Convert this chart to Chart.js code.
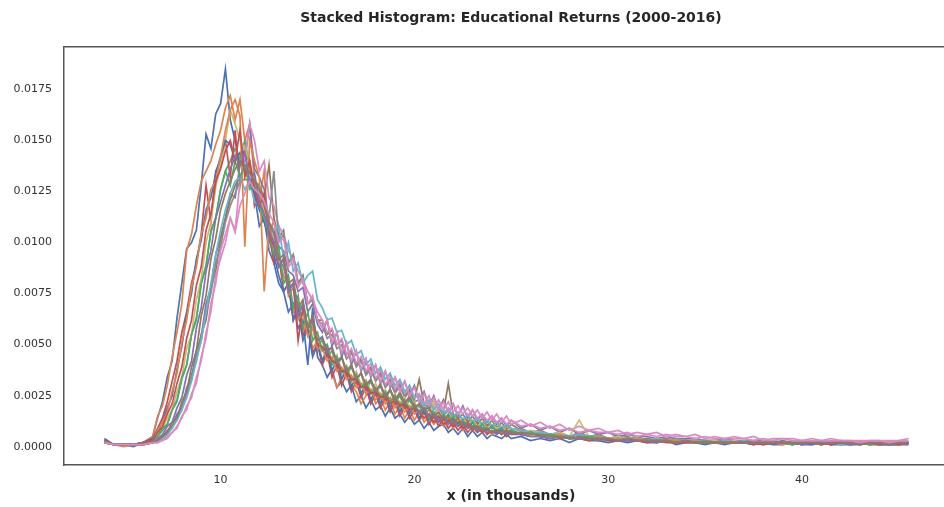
<!DOCTYPE html>
<html>
<head>
<meta charset="utf-8">
<script src="https://cdn.jsdelivr.net/npm/chart.js@4"></script>
<style>
  html, body { margin: 0; padding: 0; background: #fff; overflow: hidden; }
  canvas { display: block; }
</style>
</head>
<body>
<canvas id="chart" width="960" height="507"></canvas>
<script>
// x positions (in thousands)
const xThousands = [
  4, 4.5, 5, 5.5, 6, 6.5,
  6.75, 7, 7.25, 7.5, 7.75, 8, 8.25, 8.5, 8.75, 9, 9.25, 9.5, 9.75, 10,
  10.25, 10.5, 10.75, 11, 11.25, 11.5, 11.75, 12, 12.25, 12.5, 12.75, 13, 13.25, 13.5, 13.75, 14, 14.25, 14.5, 14.75, 15,
  15.25, 15.5, 15.75, 16, 16.25, 16.5, 16.75, 17, 17.25, 17.5, 17.75, 18, 18.25, 18.5, 18.75, 19, 19.25, 19.5, 19.75, 20,
  20.25, 20.5, 20.75, 21, 21.25, 21.5, 21.75, 22, 22.25, 22.5, 22.75, 23, 23.25, 23.5, 23.75, 24, 24.25, 24.5, 24.75, 25,
  25.5, 26, 26.5, 27, 27.5, 28, 28.5, 29, 29.5, 30, 30.5, 31, 31.5, 32, 32.5, 33, 33.5, 34, 34.5, 35,
  35.5, 36, 36.5, 37, 37.5, 38, 38.5, 39, 39.5, 40, 40.5, 41, 41.5, 42, 42.5, 43, 43.5, 44, 44.5, 45, 45.5
];

// density per year, in units of 0.0001
const d2000 = [4,1,1,0,2,5, 14,22,34,42,63,80,97,100,106,128,153,146,163,168, 185,160,150,138,146,128,124,108,112,96,90,80,76,66,70,58,62,40,68,44, 40,34,38,29,32,27,30,22,25,19,23,18,20,15,19,14,16,12,15,11, 13,9,12,8,10,11,7,9,6,9,5,8,5,7,4,6,5,4,6,4, 5,3,4,3,4,2,4,3,3,2,3,2,3,2,2,3,1,2,2,1,2,1,2,2,1,2,1,1,2,1,1,2,1,1,1,2,1,1,1,1,2];
const d2001 = [3,1,0,1,2,5, 15,20,30,44,56,70,96,104,118,130,135,140,148,155, 166,172,160,170,150,158,130,120,135,100,112,92,84,78,66,70,56,60,48,52, 42,48,36,29,34,38,30,27,21,25,28,21,24,18,22,16,20,14,18,13, 17,12,15,11,14,10,13,9,12,8,11,8,10,7,9,6,8,7,6,7, 8,6,7,5,7,5,6,4,6,4,5,3,4,4,3,4,3,3,2,3,3,2,3,2,2,3,2,2,2,1,2,2,2,1,2,2,1,2,2,1,2];
const d2002 = [2,1,1,1,1,3, 5,8,11,18,22,33,40,55,62,80,88,106,112,126, 135,140,146,141,150,137,130,126,116,108,100,92,88,78,80,66,70,58,60,50, 52,44,47,39,44,35,39,33,36,28,32,26,30,23,28,21,25,19,23,18, 20,16,18,14,17,13,16,12,14,11,13,10,12,9,11,9,10,8,9,7, 8,7,7,6,6,5,6,4,5,4,5,4,4,3,4,3,3,3,3,2,3,2,3,2,2,3,2,2,2,2,2,2,1,2,2,2,1,2,2,1,2];
const d2003 = [3,1,1,1,2,4, 9,14,22,32,42,56,66,80,90,104,128,110,135,140, 150,132,155,128,145,140,118,125,110,104,90,94,76,80,62,68,54,60,46,50, 40,46,34,40,30,36,27,32,24,29,21,26,19,24,17,22,15,20,14,18, 13,17,11,15,10,14,9,12,8,11,7,10,7,9,6,8,6,8,5,7, 6,7,5,6,4,5,4,5,3,4,3,4,3,3,2,3,2,3,2,2,2,2,2,2,1,2,2,2,1,2,2,1,2,2,1,2,1,2,2,1,2];
const d2004 = [2,1,1,1,1,2, 3,5,8,10,16,19,29,34,47,54,70,78,94,102, 112,124,122,138,140,158,136,132,126,110,106,98,96,86,84,76,78,66,70,60, 56,62,49,56,44,51,40,47,37,43,34,40,31,37,29,34,27,32,25,30, 22,27,20,25,18,23,17,21,15,20,14,18,13,16,12,15,11,14,10,13, 9,11,8,10,7,9,6,8,6,7,5,6,5,5,4,5,4,4,4,3,3,4,3,3,3,3,2,3,2,3,2,2,2,3,2,2,2,2,2,2,2];
const d2005 = [3,1,1,1,1,2, 3,5,6,10,13,20,25,35,42,55,62,78,86,102, 112,121,128,132,138,135,130,128,122,138,112,102,106,90,94,80,84,70,72,62, 62,55,57,50,52,45,47,40,43,36,39,33,36,30,33,27,31,25,28,23, 33,21,19,24,18,17,31,16,14,16,12,15,11,14,10,13,9,12,8,11, 8,7,7,6,6,5,6,5,5,4,4,5,3,4,3,4,3,3,3,2,3,3,2,3,2,2,3,2,2,2,2,2,2,1,2,2,2,1,2,2,2];
const d2006 = [2,1,1,1,1,2, 2,3,5,7,10,14,20,24,34,42,56,66,84,92, 100,112,106,130,142,158,150,135,140,122,118,108,104,96,92,86,82,76,72,66, 62,56,58,50,53,45,48,41,44,37,41,33,38,30,35,28,32,26,30,24, 26,21,25,19,23,18,22,17,20,16,19,15,18,14,17,13,16,12,15,11, 13,10,12,9,11,8,10,8,9,7,8,6,7,6,7,5,6,5,6,4,5,4,5,4,5,3,4,4,4,3,4,3,4,3,3,3,3,3,3,3,4];
const d2007 = [3,1,1,1,1,2, 3,4,7,9,14,18,27,33,44,52,66,75,90,98, 110,118,124,130,131,130,128,124,118,112,135,100,104,90,94,80,82,70,72,62, 60,53,55,48,50,43,46,39,42,35,38,32,35,29,32,26,30,24,27,22, 23,18,21,16,19,15,18,14,16,13,15,12,14,11,13,10,12,9,11,8, 9,7,8,6,7,5,7,5,6,4,5,4,5,3,4,3,4,3,3,3,3,2,3,2,3,2,2,2,2,2,2,2,2,2,1,2,2,1,2,2,2];
const d2008 = [2,1,1,1,2,3, 6,9,14,18,27,34,48,55,72,82,100,110,127,138, 150,165,158,150,146,140,128,124,115,108,100,90,92,76,80,64,70,56,62,50, 47,50,41,45,37,40,33,37,30,33,27,31,25,28,22,26,21,24,19,22, 17,19,15,22,14,16,13,15,12,14,11,13,10,12,9,11,9,10,8,9, 7,8,7,6,7,5,13,5,5,4,5,4,4,3,4,3,3,3,3,2,3,2,3,2,2,2,2,2,2,2,2,1,2,2,2,1,2,2,2,1,2];
const d2009 = [2,1,1,1,1,2, 3,4,6,9,13,18,24,32,42,52,66,80,94,106, 116,124,130,132,126,130,120,118,112,108,106,108,92,100,86,90,80,84,86,72, 68,62,63,56,57,50,52,45,47,40,43,36,39,33,36,30,33,27,30,24, 25,20,23,18,21,16,19,15,17,13,16,12,14,11,13,10,12,9,11,9, 8,7,7,6,6,5,6,5,5,4,4,4,4,3,4,3,3,3,3,3,2,3,2,3,2,2,2,2,2,2,2,2,2,1,2,2,2,2,1,2,2];
const d2010 = [3,1,1,1,2,4, 8,12,19,25,38,49,65,75,92,101,116,122,134,142, 150,148,140,144,136,130,124,116,110,102,94,84,76,80,62,68,52,58,44,50, 42,48,37,43,33,38,29,35,26,31,23,28,21,26,19,24,17,22,16,20, 14,18,13,16,12,15,11,14,10,13,9,12,8,11,8,10,7,9,6,8, 6,7,5,6,5,5,4,5,4,4,3,4,3,3,3,3,2,3,2,2,2,2,2,2,2,1,2,2,1,2,1,2,1,2,1,1,2,1,1,1,1];
const d2011 = [2,1,1,1,1,3, 8,12,17,27,36,51,62,78,88,104,112,126,130,142, 155,165,170,162,98,150,140,132,76,110,98,88,92,74,78,62,66,54,58,48, 48,42,44,37,39,33,35,29,31,26,28,23,26,21,24,19,22,17,20,16, 18,14,16,12,15,11,14,10,12,9,11,8,10,7,9,7,8,6,8,6, 7,6,6,5,6,4,5,4,5,3,4,3,4,3,3,3,3,2,3,2,2,2,2,2,2,2,2,1,2,2,2,1,2,2,1,2,2,1,2,1,2];
const d2012 = [2,1,1,1,2,3, 5,9,11,18,23,34,40,55,63,80,89,105,112,126, 135,128,140,132,138,126,128,118,112,104,94,98,80,84,68,74,58,66,52,56, 47,50,40,44,36,39,32,35,29,32,26,29,24,27,22,25,20,23,18,21, 16,19,14,17,13,16,12,15,11,13,10,12,9,11,8,10,8,9,7,8, 6,7,5,6,5,5,4,5,4,4,3,4,3,3,3,3,2,3,2,3,2,2,2,2,2,2,2,2,1,2,2,1,2,2,1,2,1,2,2,1,2];
const d2013 = [3,1,1,1,2,3, 7,10,16,21,31,39,53,62,79,88,106,114,130,136, 145,150,140,155,132,140,126,118,124,104,98,88,92,76,80,52,68,58,62,50, 49,46,42,41,37,37,33,33,29,30,26,27,24,25,21,23,20,21,18,19, 17,14,16,12,15,11,13,10,12,9,11,8,10,7,9,7,8,6,8,6, 6,5,5,4,5,4,4,3,4,3,3,3,3,2,3,2,2,2,2,2,2,2,2,2,2,1,2,2,2,1,2,2,1,2,2,1,2,1,2,1,2];
const d2014 = [2,1,1,1,1,2, 4,6,10,12,19,24,35,42,58,68,86,96,112,120, 128,136,142,138,144,130,134,120,114,106,100,88,92,76,80,64,70,58,62,52, 54,46,49,41,44,37,40,33,36,30,33,27,30,25,28,23,26,21,24,20, 17,19,15,16,13,15,11,13,10,12,9,10,8,9,7,8,6,8,6,7, 6,5,5,4,5,4,4,4,3,4,3,3,3,3,2,3,2,3,2,2,2,2,2,2,2,2,2,2,2,1,2,2,2,2,1,2,2,2,1,2,2];
const d2015 = [3,1,1,1,1,2, 3,5,7,12,14,22,27,39,47,64,74,92,102,116, 124,130,136,140,136,134,130,126,118,110,104,92,94,80,82,68,72,58,64,52, 53,48,48,42,44,37,40,33,36,30,33,27,31,24,28,22,27,21,25,19, 21,18,19,15,17,13,15,11,14,10,12,9,10,8,9,7,8,6,8,6, 7,6,6,5,5,4,5,4,4,4,3,4,3,3,3,3,2,3,2,2,2,2,2,2,2,2,2,2,2,2,2,1,2,2,2,1,2,2,1,2,2];
const d2016 = [2,1,1,1,1,2, 2,3,4,7,9,15,18,26,31,44,53,70,80,96, 104,112,105,118,124,130,126,124,120,114,110,100,102,88,92,78,82,70,74,62, 58,62,51,56,46,51,42,47,38,43,35,40,32,37,30,34,27,32,25,29, 22,26,20,24,18,22,17,21,16,19,15,18,14,16,13,15,12,14,11,13, 10,11,9,10,8,9,7,8,7,7,6,7,5,6,5,6,5,5,4,5,4,4,4,4,3,4,3,4,3,3,3,3,3,3,3,2,3,3,2,3,3];

const years = [2000, 2001, 2002, 2003, 2004, 2005, 2006, 2007, 2008, 2009, 2010, 2011, 2012, 2013, 2014, 2015, 2016];
const yearSeries = [d2000, d2001, d2002, d2003, d2004, d2005, d2006, d2007, d2008, d2009, d2010, d2011, d2012, d2013, d2014, d2015, d2016];

const xTicks = [10, 20, 30, 40];
const yTicks = [0, 0.0025, 0.005, 0.0075, 0.01, 0.0125, 0.015, 0.0175];

// seaborn "deep" colour cycle
const palette = ['#4c72b0', '#dd8452', '#55a868', '#c44e52', '#8172b3',
                 '#937860', '#da8bc3', '#8c8c8c', '#ccb974', '#64b5cd'];

// top (and right) edges of the axes box
const frameEdges = {
    id: 'frameEdges',
    afterDraw(chart) {
        const { ctx, chartArea: a } = chart;
        ctx.save();
        ctx.strokeStyle = '#555';
        ctx.lineWidth = 1.5;
        ctx.beginPath();
        ctx.moveTo(a.left, a.top);
        ctx.lineTo(a.right, a.top);
        ctx.lineTo(a.right, a.bottom);
        ctx.stroke();
        ctx.restore();
    }
};

const datasets = yearSeries.map((vals, i) => ({
    label: String(years[i]),
    data: xThousands.map((x, j) => ({ x, y: vals[j] / 10000 })),
    borderColor: palette[i % palette.length],
    borderWidth: 1.7,
    pointRadius: 0,
    tension: 0,
    fill: false,
    order: yearSeries.length - i
}));

const tickFont = { family: 'DejaVu Sans', size: 11 };

new Chart(document.getElementById('chart'), {
    type: 'line',
    data: { datasets },
    plugins: [frameEdges],
    options: {
        responsive: false,
        animation: false,
        layout: { padding: { left: 0, right: 2, top: 0, bottom: 0 } },
        plugins: {
            legend: { display: false },
            tooltip: { enabled: false },
            title: {
                display: true,
                text: 'Stacked Histogram: Educational Returns (2000-2016)',
                fullSize: false,
                color: '#262626',
                font: { family: 'DejaVu Sans', size: 14, weight: 'bold' },
                padding: { top: 10, bottom: 20 }
            }
        },
        scales: {
            x: {
                type: 'linear',
                min: 1.92,
                max: 48.05,
                afterBuildTicks: s => { s.ticks = xTicks.map(v => ({ value: v })); },
                afterFit: s => { s.height = 42; },
                grid: { display: false, drawTicks: false },
                border: { display: true, color: '#555', width: 1.5 },
                ticks: { font: tickFont, color: '#333', padding: 9, maxRotation: 0 },
                title: {
                    display: true,
                    text: 'x (in thousands)',
                    color: '#262626',
                    font: { family: 'DejaVu Sans', size: 14, weight: 'bold' },
                    padding: { top: 0, bottom: 2 }
                }
            },
            y: {
                min: -0.000896,
                max: 0.019586,
                afterBuildTicks: s => { s.ticks = yTicks.map(v => ({ value: v })); },
                afterFit: s => { s.width = 64; },
                grid: { display: false, drawTicks: false },
                border: { display: true, color: '#555', width: 1.5 },
                ticks: { font: tickFont, color: '#333', padding: 12, callback: v => v.toFixed(4) }
            }
        }
    }
});
</script>
</body>
</html>
